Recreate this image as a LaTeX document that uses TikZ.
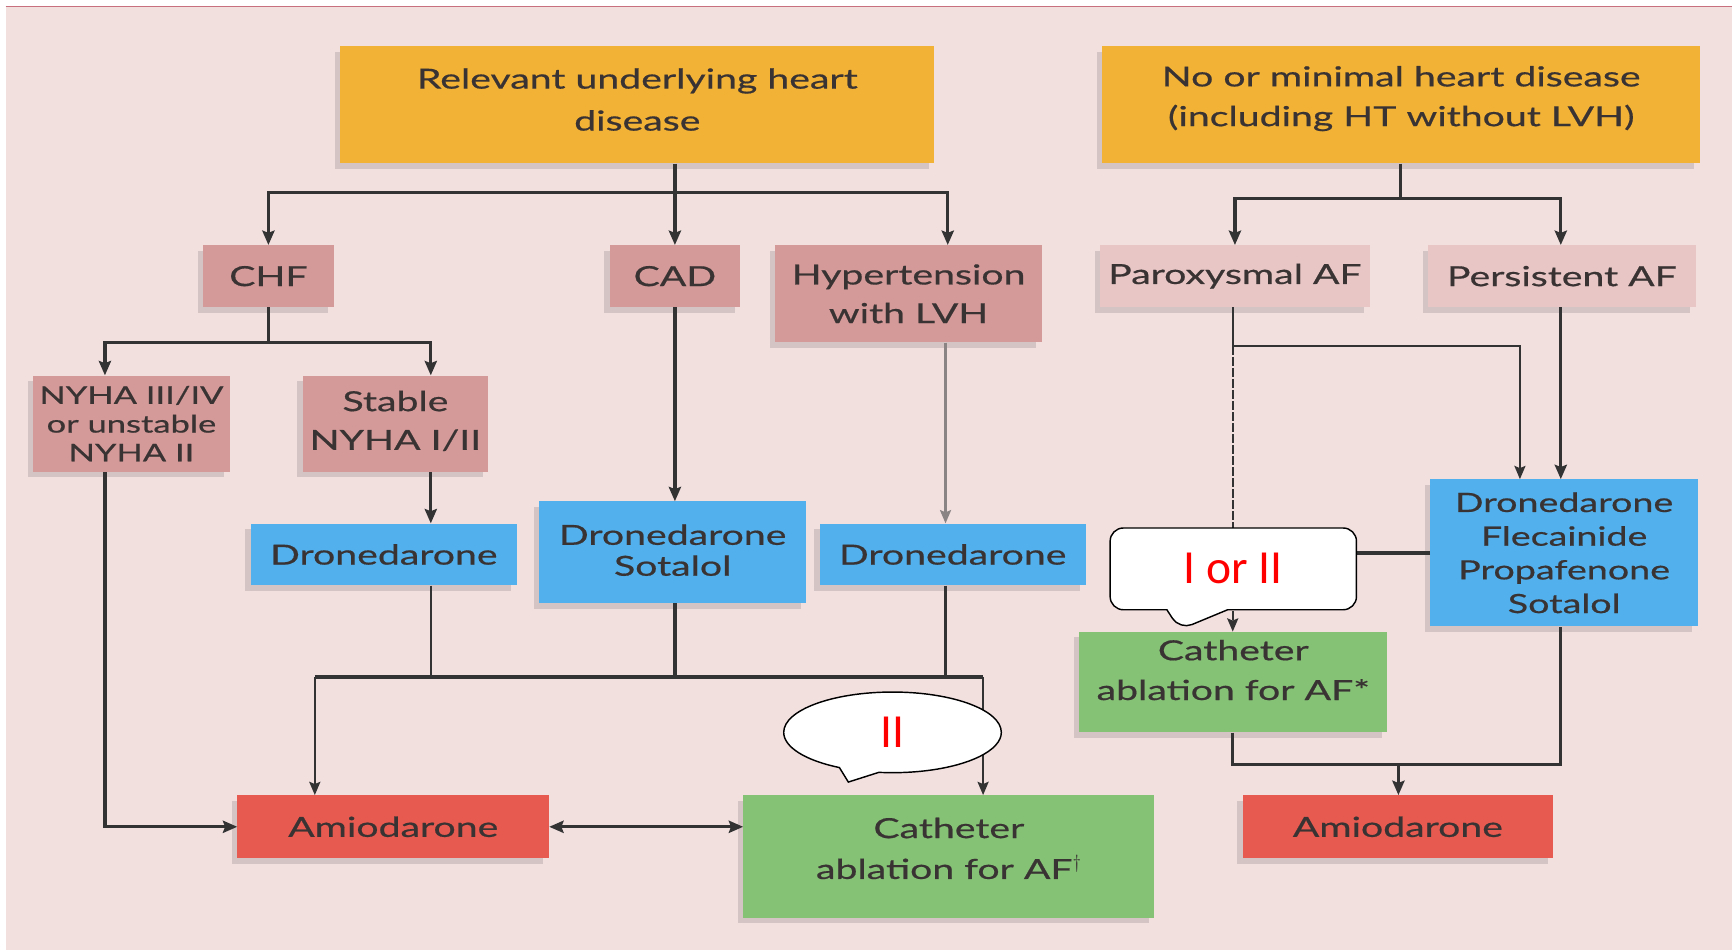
\documentclass[tikz,border=0pt]{standalone}
\usepackage{fontspec}
\setmainfont{Lato}[FakeStretch=1.42,FakeBold=0.6]
\newfontfamily\calloutfont{Carlito}
\usetikzlibrary{arrows.meta,shapes.callouts,shapes.geometric,shadows}
\definecolor{bgpink}{HTML}{F2E0DF}
\definecolor{topline}{HTML}{C8707E}
\definecolor{boxorange}{HTML}{F2B236}
\definecolor{boxrose}{HTML}{D49A99}
\definecolor{boxlight}{HTML}{E8C6C6}
\definecolor{boxblue}{HTML}{52B0EC}
\definecolor{boxgreen}{HTML}{85C276}
\definecolor{boxred}{HTML}{E65A50}
\definecolor{txt}{HTML}{3A3333}
\definecolor{linedark}{HTML}{333333}
\definecolor{linegray}{HTML}{8A8484}
\tikzset{
  box/.style={rectangle,inner sep=0pt,align=center,text=txt,
    font=\fontsize{25}{36}\selectfont,
    drop shadow={shadow xshift=-5pt,shadow yshift=-5pt,opacity=0.12,fill=black}},
  link/.style={draw=linedark,line width=3pt},
  thinlink/.style={draw=linedark,line width=2pt},
  arr/.style={link,-{Stealth[length=13pt,width=11pt,inset=2pt]}},
  thinarr/.style={thinlink,-{Stealth[length=12pt,width=10pt,inset=2pt]}},
  callbox/.style={draw=black,fill=white,line width=1.3pt,text=red,
    font=\calloutfont\fontsize{43}{46}\selectfont,inner sep=0pt},
}
\begin{document}
\begin{tikzpicture}[x=1pt,y=-1pt]
\useasboundingbox (0,0) rectangle (1568,860);
%background
\fill[bgpink] (5,6) rectangle (1568,860);
\draw[topline,line width=1.2pt] (5,6)--(1568,6);
%top boxes
\node[box,fill=boxorange,minimum width=538pt,minimum height=106pt,font=\fontsize{25}{38}\selectfont,text depth=10pt] (rel) at (577,95) {Relevant underlying heart\\disease};
\node[box,fill=boxorange,minimum width=541pt,minimum height=106pt,text depth=16pt] (nomin) at (1268.5,95) {No or minimal heart disease\\(including HT without LVH)};
%second row
\node[box,fill=boxrose,minimum width=118pt,minimum height=56pt] (chf) at (243,250) {CHF};
\node[box,fill=boxrose,minimum width=118pt,minimum height=56pt] (cad) at (611,250) {CAD};
\node[box,fill=boxrose,minimum width=241pt,minimum height=88pt,font=\fontsize{25}{35}\selectfont] (hyp) at (822.5,266) {Hypertension\\with LVH};
\node[box,fill=boxlight,minimum width=244pt,minimum height=56pt] (parox) at (1118,250) {Paroxysmal AF};
\node[box,fill=boxlight,minimum width=242pt,minimum height=56pt] (pers) at (1414,250) {Persistent AF};
%NYHA
\node[box,fill=boxrose,minimum width=178pt,minimum height=87pt,font=\fontsize{22}{26}\selectfont] (nyhaiii) at (119,383.5) {NYHA III/IV\\or unstable\\NYHA II};
\node[box,fill=boxrose,minimum width=168pt,minimum height=87pt,font=\fontsize{25}{35}\selectfont,text depth=6pt] (stable) at (358,383.5) {Stable\\NYHA I/II};
%drugs
\node[box,fill=boxblue,minimum width=241pt,minimum height=56pt] (droL) at (347.5,502) {Dronedarone};
\node[box,fill=boxblue,minimum width=242pt,minimum height=92pt,font=\fontsize{25}{28}\selectfont,text depth=4pt] (droS) at (609,500) {Dronedarone\\Sotalol};
\node[box,fill=boxblue,minimum width=241pt,minimum height=56pt] (droR) at (862.5,502) {Dronedarone};
\node[box,fill=boxblue,minimum width=242pt,minimum height=133pt,font=\fontsize{24}{30.5}\selectfont] (flec) at (1416,500.5) {Dronedarone\\Flecainide\\Propafenone\\Sotalol};
\node[box,fill=boxgreen,minimum width=279pt,minimum height=91pt,text depth=22pt] (cathA) at (1116.5,617.5) {Catheter\\ablation for AF*};
%bottom row
\node[box,fill=boxred,minimum width=282pt,minimum height=57pt] (amioL) at (356,748.5) {Amiodarone};
\node[box,fill=boxgreen,minimum width=372pt,minimum height=111pt,font=\fontsize{25}{37}\selectfont,text depth=15pt] (cathB) at (859,775.5) {Catheter\\ablation for AF$^{\dagger}$};
\node[box,fill=boxred,minimum width=281pt,minimum height=57pt] (amioR) at (1265.5,748.5) {Amiodarone};
%junctions
\coordinate (forkA) at (611,174);
\coordinate (forkB) at (1268,180);
\coordinate (forkC) at (243,310);
\coordinate (busL) at (285,613);
\coordinate (busR) at (890,613);
\coordinate (forkP) at (1116,313);
\coordinate (forkE) at (1266,692);
%left tree
\draw[arr] (rel.south -| forkA) -- (cad.north);
\draw[arr] (forkA) -| (chf.north);
\draw[arr] (forkA) -| (hyp.north -| 858,0);
\draw[link] (chf.south) -- (forkC);
\draw[arr] (forkC) -| (nyhaiii.north -| 95,0);
\draw[arr] (forkC) -| (stable.north -| 390,0);
\draw[arr] (nyhaiii.south -| 95,0) |- (amioL.west);
\draw[arr] (stable.south -| 390,0) -- (droL.north -| 390,0);
\draw[arr] (cad.south) -- (droS.north -| cad.south);
\draw[draw=linegray,line width=2pt,-{Stealth[length=12pt,width=10pt,inset=2pt]}] (hyp.south -| 856,0) -- (droR.north -| 856,0);
\draw[thinlink] (droL.south -| 390,0) -- (busL -| 390,0);
\draw[link] (droS.south -| 611,0) -- (busL -| 611,0);
\draw[link] (droR.south -| 856,0) -- (busL -| 856,0);
\draw[link] (busL) -- (busR);
\draw[thinarr] (busL) -- (amioL.north -| busL);
\draw[thinarr] (busR) -- (cathB.north -| busR);
\draw[link,{Stealth[length=13pt,width=11pt,inset=2pt]}-{Stealth[length=13pt,width=11pt,inset=2pt]}] (amioL.east) -- (cathB.west |- amioL.east);
%right tree
\draw[link] (nomin.south -| forkB) -- (forkB);
\draw[arr] (forkB) -| (parox.north);
\draw[arr] (forkB) -| (pers.north -| 1413,0);
\draw[thinarr] (parox.south -| forkP) -- (forkP) -| (flec.north -| 1376,0);
\draw[arr] (pers.south -| 1413,0) -- (flec.north -| 1413,0);
\draw[thinlink,dash pattern=on 8pt off 2pt,-{Stealth[length=12pt,width=10pt,inset=2pt]}] (forkP) -- (cathA.north -| forkP);
\draw[link] (flec.west) -- (flec.west -| forkP);
\draw[link] (cathA.south -| forkP) |- (forkE) -| (flec.south -| 1413,0);
\draw[arr] (forkE) -- (amioR.north -| forkE);
%callouts
\node[callbox,rectangle callout,rounded corners=12pt,minimum width=223pt,minimum height=74pt,
  callout pointer width=55pt,callout absolute pointer={(1068,570)}] (iorii) at (1116.5,515) {I or II};
\node[callbox,ellipse callout,minimum width=197pt,minimum height=73pt,
  callout pointer arc=22,callout absolute pointer={(768,708)}] (ii) at (808,663) {II};
\end{tikzpicture}
\end{document}
